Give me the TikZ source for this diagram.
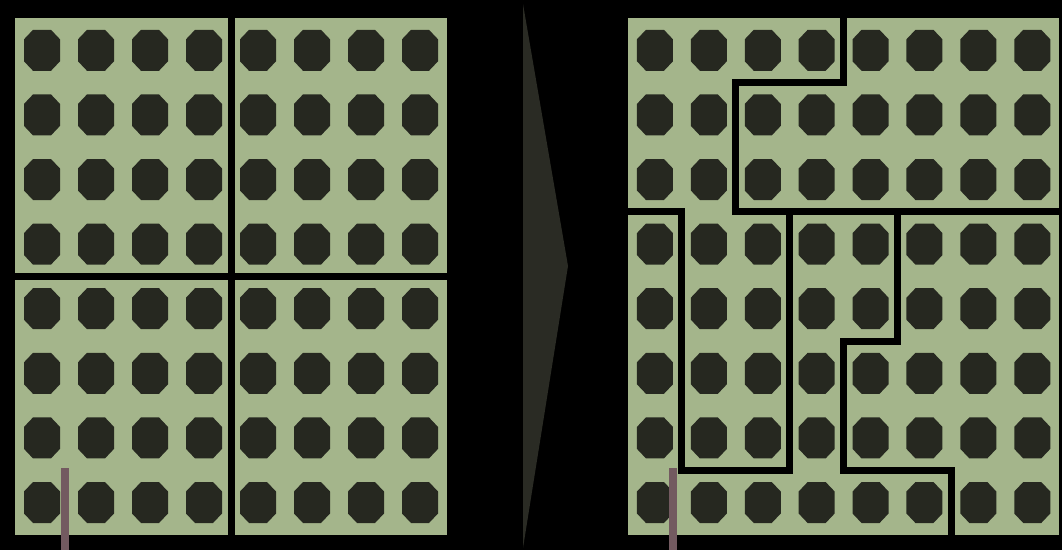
\documentclass[tikz,border=0pt]{standalone}
\usepackage{tikz}
\usetikzlibrary{calc}

\definecolor{boardgreen}{HTML}{A4B58B}
\definecolor{padgray}{HTML}{262820}
\definecolor{chevrongray}{HTML}{2A2B24}
\definecolor{markermauve}{HTML}{735A60}

\begin{document}
\begin{tikzpicture}[x=1pt, y=-1pt,
  board/.style={fill=boardgreen},
  wall/.style={draw=black, line width=7pt, line cap=rect, line join=miter},
  pad/.style={fill=padgray},
  marker/.style={fill=markermauve}
]
  \fill[black] (0,0) rectangle (1062,550);
  \useasboundingbox (0,0) rectangle (1062,550);

  % left board, split in four quadrants
  \begin{scope}[shift={(15,18)}, x=54pt, y=-64.6pt]
    \fill[board] (0,0) rectangle (8,8);
    \foreach \c in {0,...,7}
      \foreach \r in {0,...,7}
        \fill[pad] (\c+0.5,\r+0.5) ++(-18pt,-11pt) -- ++(0,22pt) -- ++(9pt,9.5pt) -- ++(18pt,0)
          -- ++(9pt,-9.5pt) -- ++(0,-22pt) -- ++(-9pt,-9.5pt) -- ++(-18pt,0) -- cycle;
    \draw[wall] (4,0) -- (4,8);
    \draw[wall] (0,4) -- (8,4);
  \end{scope}

  % chevron between the boards
  \fill[chevrongray] (523,4) -- (568,266) -- (523,548) -- cycle;

  % right board, irregular regions
  \begin{scope}[shift={(628,18)}, x=53.9pt, y=-64.6pt]
    \fill[board] (0,0) rectangle (8,8);
    \foreach \c in {0,...,7}
      \foreach \r in {0,...,7}
        \fill[pad] (\c+0.5,\r+0.5) ++(-18pt,-11pt) -- ++(0,22pt) -- ++(9pt,9.5pt) -- ++(18pt,0)
          -- ++(9pt,-9.5pt) -- ++(0,-22pt) -- ++(-9pt,-9.5pt) -- ++(-18pt,0) -- cycle;
    \draw[wall] (4,0) -- (4,1) -- (2,1) -- (2,3) -- (8,3);
    \draw[wall] (0,3) -- (1,3) -- (1,7) -- (3,7) -- (3,3);
    \draw[wall] (5,3) -- (5,5) -- (4,5) -- (4,7) -- (6,7) -- (6,8);
  \end{scope}

  % markers
  \fill[marker] (61,468) rectangle (69,550);
  \fill[marker] (669,468) rectangle (677,550);
\end{tikzpicture}
\end{document}
